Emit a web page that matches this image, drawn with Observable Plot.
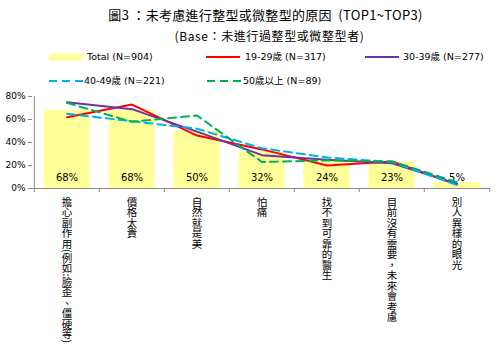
<!DOCTYPE html>
<html><head><meta charset="utf-8">
<script src="https://cdn.jsdelivr.net/npm/d3@7"></script>
<script src="https://cdn.jsdelivr.net/npm/@observablehq/plot@0.6"></script>
<style>
body{margin:0;background:#fff;}
#wrap{position:relative;width:497px;height:358px;overflow:hidden;font-family:"DejaVu Sans",sans-serif;}
.t{position:absolute;left:0;width:497px;text-align:center;font-family:"Noto Sans CJK TC","DejaVu Sans",sans-serif;color:#000;white-space:nowrap;}
#chart{position:absolute;left:0;top:88px;}
#legend{position:absolute;left:0;top:0;}
</style></head>
<body><div id="wrap">
<div class="t" style="top:5px;font-size:13px;left:17px;letter-spacing:0.3px;">圖3 ：未考慮進行整型或微整型的原因&nbsp; (TOP1~TOP3)</div>
<div class="t" style="top:27px;font-size:12px;left:21px;letter-spacing:0.6px;">(Base：未進行過整型或微整型者)</div>
<svg id="legend" width="497" height="90"></svg>
<div id="chart"></div>
</div>
<script>
const categories = ["擔心副作用(例如:臉歪、僵硬等)","價格太貴","自然就是美","怕痛","找不到可靠的醫生","目前沒有需要，未來會考慮","別人異樣的眼光"];
const total = [68,68,50,32,24,23,5];
const age19_29 = [62,73,46,34,20,23.5,3.5];
const age30_39 = [75,69,49.5,29,25,22,4];
const age40_49 = [65,58.5,52,35,27,23,3];
const age50up = [74.5,58,63.5,23,24.5,23.5,5.5];
const seriesNames = ["19-29歲 (N=317)","30-39歲 (N=277)","40-49歲 (N=221)","50歲以上 (N=89)"];
const totalName = "Total (N=904)";
const yTicks = [0,20,40,60,80];

const colors = ["#ff0000","#7030a0","#00b0f0","#00b050"];
const dashes = [null,null,"8,5","8,5"];
const seriesVals = [age19_29,age30_39,age40_49,age50up];
const lineData = seriesVals.map((vals,si)=>categories.map((c,i)=>({cat:c,v:vals[i],s:seriesNames[si]})));
const barData = categories.map((c,i)=>({cat:c,v:total[i]}));

const W=497,H=270,mL=32,mR=7,mT=8,mB=170;
const bw=(W-mL-mR)/categories.length;

const chart = Plot.plot({
  width:W,height:H,marginLeft:mL,marginRight:mR,marginTop:mT,marginBottom:mB,
  style:{fontFamily:"DejaVu Sans, sans-serif",fontSize:"9px",color:"#000",background:"transparent",overflow:"visible"},
  x:{domain:categories,padding:0,label:null},
  y:{domain:[0,80],label:null},
  marks:[
    Plot.barY(barData,{x:"cat",y:"v",fill:"#ffff99",insetLeft:9.5,insetRight:9.5}),
    Plot.text(barData,{x:"cat",y:0,dy:-11,text:d=>d.v+"%",fontSize:10,fill:"#000"}),
    ...lineData.map((d,si)=>Plot.line(d,{x:"cat",y:"v",stroke:colors[si],strokeWidth:2,strokeDasharray:dashes[si]})),
    Plot.axisY({ticks:yTicks,tickFormat:d=>d+"%",tickSize:4,tickPadding:3,fontSize:9}),
    Plot.ruleY([0],{stroke:"#888"}),
    Plot.ruleX([0],{x:()=>categories[0],dx:-bw/2,y1:0,y2:80,stroke:"#888"}),
    Plot.ruleX(categories,{x:d=>d,dx:-bw/2,y1:0,y2:-3.5,stroke:"#888"}),
    Plot.ruleX([categories[categories.length-1]],{x:d=>d,dx:bw/2,y1:0,y2:-3.5,stroke:"#888"}),
    Plot.axisX({tickSize:0,tickPadding:8,fontSize:10.5})
  ]
});
document.getElementById("chart").appendChild(chart);
chart.querySelectorAll('g[aria-label="y-axis tick"] path').forEach(p=>p.setAttribute("stroke","#888"));
// vertical x labels
chart.querySelectorAll('g[aria-label="x-axis tick label"] text').forEach(t=>{
  t.removeAttribute("y");t.removeAttribute("dy");
  t.setAttribute("text-anchor","start");
  t.style.writingMode="vertical-rl";
  t.style.textOrientation="mixed";
  t.style.fontFamily="Noto Sans CJK TC, sans-serif";
});

// legend
const lg=d3.select("#legend");
const items=[
  {name:totalName,type:"bar",x:49,y:57,tx:87},
  {name:seriesNames[0],type:"line",c:colors[0],d:null,x:206,y:57,tx:245},
  {name:seriesNames[1],type:"line",c:colors[1],d:null,x:365,y:57,tx:403},
  {name:seriesNames[2],type:"line",c:colors[2],d:"8,5",x:49,y:81,tx:84},
  {name:seriesNames[3],type:"line",c:colors[3],d:"8,5",x:207,y:81,tx:243}
];
items.forEach(it=>{
  if(it.type==="bar") lg.append("rect").attr("x",it.x).attr("y",it.y-3.5).attr("width",34).attr("height",7).attr("fill","#ffff99");
  else lg.append("line").attr("x1",it.x).attr("x2",it.x+34).attr("y1",it.y).attr("y2",it.y).attr("stroke",it.c).attr("stroke-width",2).attr("stroke-dasharray",it.d);
  lg.append("text").attr("x",it.tx).attr("y",it.y).attr("dy","0.35em").attr("font-size",9.5).attr("font-family","DejaVu Sans, Noto Sans CJK TC, sans-serif").text(it.name);
});
</script>
</body></html>
